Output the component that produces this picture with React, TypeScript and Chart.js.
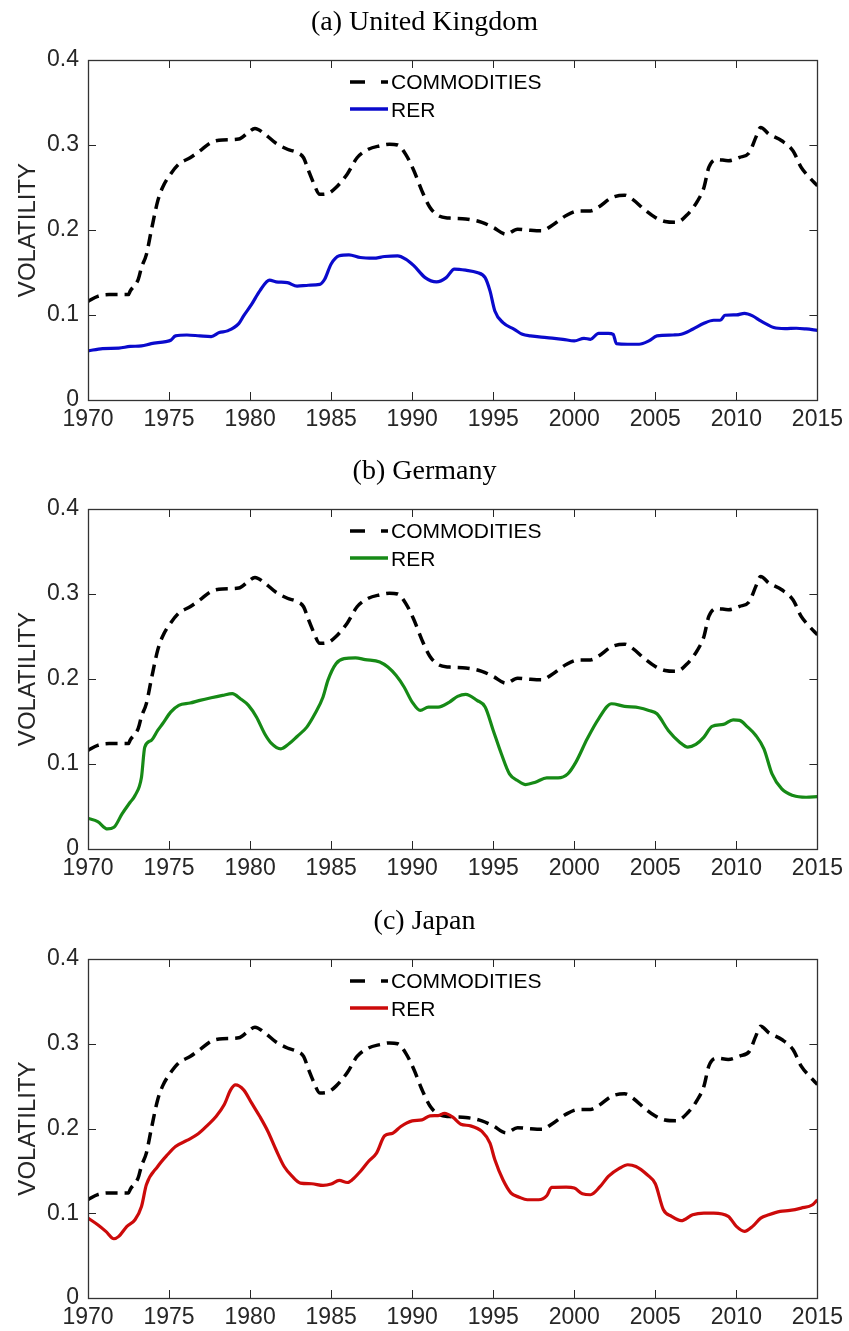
import React, { useEffect, useRef } from 'react';
import { Chart, registerables } from 'chart.js';

Chart.register(...registerables);

// ---------- data ----------
const COMMODITY_YEARS = [
  1970, 1970.6, 1971.3, 1972.5, 1972.6, 1973.1, 1973.3, 1973.6, 1973.9, 1974.3, 1974.6,
  1975.1, 1975.6, 1976.3, 1976.9, 1977.6, 1978.3, 1979.3, 1979.9, 1980.3, 1980.9, 1981.6,
  1982.3, 1982.9, 1983.3, 1983.6, 1983.9, 1984.3, 1984.8, 1985.3, 1986.0, 1986.6, 1987.3,
  1988.0, 1988.6, 1989.1, 1989.6, 1990.1, 1990.6, 1991.1, 1991.6, 1992.3, 1993.3, 1994.3,
  1995.0, 1995.8, 1996.5, 1997.1, 1998.0, 1998.6, 1999.5, 2000.3, 2001.0, 2001.5, 2002.3,
  2003.1, 2003.6, 2004.3, 2005.0, 2005.6, 2006.3, 2007.0, 2007.6, 2008.0, 2008.3, 2008.8,
  2009.5, 2010.2, 2010.8, 2011.2, 2011.5, 2012.0, 2012.8, 2013.5, 2014.0, 2014.5, 2015.0,
];
const COMMODITY_VOL = [
  0.116, 0.122, 0.124, 0.124, 0.128, 0.142, 0.156, 0.171, 0.199, 0.234, 0.25,
  0.266, 0.2775, 0.285, 0.293, 0.303, 0.306, 0.307, 0.315, 0.3195, 0.313, 0.302,
  0.295, 0.291, 0.285, 0.27, 0.256, 0.242, 0.243, 0.25, 0.266, 0.285, 0.295,
  0.299, 0.301, 0.3, 0.289, 0.27, 0.246, 0.2265, 0.217, 0.214, 0.213, 0.209,
  0.203, 0.195, 0.201, 0.2, 0.199, 0.205, 0.217, 0.2225, 0.2225, 0.227, 0.238,
  0.241, 0.236, 0.2245, 0.2147, 0.21, 0.209, 0.2186, 0.234, 0.25, 0.2736, 0.283,
  0.2815, 0.2855, 0.291, 0.309, 0.3207, 0.313, 0.305, 0.293, 0.2736, 0.262, 0.252,
];

const UK_YEARS = [
  1970, 1970.9, 1971.9, 1972.6, 1973.3, 1973.9, 1974.8, 1975.1, 1975.4, 1976.1, 1976.9,
  1977.6, 1978.1, 1978.6, 1979.3, 1979.6, 1980.1, 1980.6, 1981.2, 1981.6, 1982.3, 1982.9,
  1983.6, 1984.3, 1984.6, 1985.0, 1985.5, 1986.1, 1986.8, 1987.6, 1988.3, 1989.1, 1989.6,
  1990.1, 1990.8, 1991.5, 1992.1, 1992.6, 1993.3, 1994.0, 1994.5, 1994.8, 1995.1, 1995.6,
  1996.3, 1996.8, 1997.3, 1998.3, 1999.3, 2000.0, 2000.6, 2001.0, 2001.5, 2002.1, 2002.4,
  2002.6, 2003.3, 2004.0, 2004.6, 2005.1, 2006.1, 2006.6, 2007.3, 2008.0, 2008.6, 2009.0,
  2009.3, 2010.0, 2010.5, 2011.0, 2011.5, 2011.8, 2012.3, 2013.0, 2013.7, 2014.3, 2015.0,
];
const UK_RER = [
  0.0577, 0.0605, 0.061, 0.063, 0.0636, 0.0663, 0.0687, 0.0703, 0.0754, 0.0765, 0.0754,
  0.0746, 0.0793, 0.0813, 0.0899, 0.099, 0.1127, 0.1284, 0.141, 0.139, 0.138, 0.134,
  0.135, 0.136, 0.142, 0.16, 0.1696, 0.1708, 0.1676, 0.1668, 0.1688, 0.1696, 0.1657,
  0.158, 0.144, 0.139, 0.144, 0.154, 0.1527, 0.15, 0.144, 0.1284, 0.1048, 0.091,
  0.0832, 0.0773, 0.0754, 0.0734, 0.0714, 0.0695, 0.0726, 0.0714, 0.0785, 0.0785, 0.0773,
  0.0663, 0.0656, 0.0656, 0.0695, 0.0754, 0.0765, 0.0773, 0.0832, 0.0903, 0.0938, 0.0938,
  0.0997, 0.1001, 0.102, 0.099, 0.093, 0.0899, 0.0852, 0.084, 0.0844, 0.0836, 0.082,
];

const DE_YEARS = [
  1970, 1970.6, 1971.2, 1971.6, 1972.1, 1972.6, 1972.9, 1973.3, 1973.5, 1973.9, 1974.3,
  1974.6, 1975.1, 1975.6, 1976.3, 1976.9, 1977.6, 1978.3, 1978.9, 1979.4, 1979.9, 1980.4,
  1980.9, 1981.3, 1981.9, 1982.4, 1982.9, 1983.5, 1984.0, 1984.5, 1984.8, 1985.3, 1985.8,
  1986.5, 1987.1, 1988.0, 1988.5, 1989.0, 1989.5, 1990.0, 1990.5, 1991.0, 1991.6, 1992.3,
  1992.8, 1993.3, 1994.0, 1994.5, 1995.0, 1995.5, 1996.0, 1996.5, 1997.0, 1997.6, 1998.3,
  1999.0, 1999.6, 2000.1, 2000.8, 2001.5, 2002.3, 2003.1, 2004.0, 2004.6, 2005.1, 2005.8,
  2006.5, 2007.0, 2007.5, 2008.0, 2008.5, 2009.2, 2009.8, 2010.2, 2010.7, 2011.2, 2011.7,
  2012.2, 2012.8, 2013.5, 2014.3, 2015.0,
];
const DE_RER = [
  0.0361, 0.0322, 0.0236, 0.0255, 0.0413, 0.055, 0.0629, 0.0845, 0.1198, 0.1277, 0.1395,
  0.1473, 0.161, 0.169, 0.1717, 0.1749, 0.178, 0.1807, 0.1827, 0.1768, 0.169, 0.155,
  0.1356, 0.1246, 0.1179, 0.1238, 0.1324, 0.1434, 0.159, 0.1788, 0.1984, 0.218, 0.224,
  0.2248, 0.2228, 0.22, 0.2141, 0.2043, 0.1906, 0.1729, 0.163, 0.167, 0.167, 0.1729,
  0.1796, 0.182, 0.1749, 0.167, 0.1395, 0.112, 0.0884, 0.0806, 0.0758, 0.0786, 0.0837,
  0.0837, 0.0884, 0.1022, 0.1297, 0.1532, 0.1709, 0.1678, 0.1662, 0.163, 0.1591, 0.1395,
  0.1257, 0.1198, 0.123, 0.1316, 0.1442, 0.1466, 0.152, 0.1513, 0.1434, 0.1336, 0.1179,
  0.0884, 0.0707, 0.0629, 0.0609, 0.0617,
];

const JP_YEARS = [
  1970, 1970.6, 1971.1, 1971.6, 1971.9, 1972.4, 1972.9, 1973.3, 1973.6, 1974.3, 1974.9,
  1975.4, 1976.1, 1976.8, 1977.4, 1977.9, 1978.4, 1978.8, 1979.1, 1979.6, 1980.1, 1980.6,
  1981.1, 1981.6, 1982.1, 1982.6, 1983.1, 1983.8, 1984.5, 1985.0, 1985.5, 1986.0, 1986.3,
  1986.8, 1987.3, 1987.8, 1988.3, 1988.8, 1989.3, 1990.0, 1990.6, 1991.1, 1991.6, 1992.0,
  1992.5, 1993.0, 1993.6, 1994.3, 1994.8, 1995.1, 1995.6, 1996.1, 1996.6, 1997.1, 1997.8,
  1998.3, 1998.6, 1999.5, 2000.0, 2000.5, 2001.0, 2001.6, 2002.1, 2002.8, 2003.3, 2003.8,
  2004.5, 2005.0, 2005.5, 2006.0, 2006.6, 2007.3, 2008.0, 2008.6, 2009.5, 2010.0, 2010.5,
  2011.0, 2011.5, 2012.0, 2012.7, 2013.3, 2014.0, 2014.7, 2015.0,
];
const JP_RER = [
  0.0943, 0.0864, 0.0786, 0.0699, 0.0727, 0.0845, 0.0923, 0.108, 0.1336, 0.1552, 0.169,
  0.1788, 0.1859, 0.1937, 0.2043, 0.2141, 0.2279, 0.2456, 0.2515, 0.2456, 0.2299, 0.2141,
  0.1965, 0.1749, 0.1552, 0.1434, 0.1356, 0.1348, 0.1328, 0.1344, 0.1387, 0.1363, 0.1395,
  0.1493, 0.1611, 0.1709, 0.1914, 0.1945, 0.2024, 0.209, 0.2102, 0.215, 0.2153, 0.218,
  0.2134, 0.2051, 0.2031, 0.1965, 0.1827, 0.163, 0.1395, 0.1238, 0.119, 0.1159, 0.1159,
  0.1206, 0.1305, 0.1308, 0.1297, 0.123, 0.1218, 0.1316, 0.1434, 0.1532, 0.1572, 0.1552,
  0.1454, 0.1348, 0.1041, 0.0963, 0.0912, 0.0982, 0.1002, 0.1002, 0.0963, 0.0845, 0.0786,
  0.0845, 0.0943, 0.0982, 0.1022, 0.1033, 0.1061, 0.11, 0.1159,
];

const X_MIN = 1970;
const X_MAX = 2015;
const X_STEP = 5;
const Y_MIN = 0;
const Y_MAX = 0.4;
const Y_STEP = 0.1;
const SERIES_LABELS = ['COMMODITIES', 'RER'];
const Y_TITLE = 'VOLATILITY';
const PANEL_TITLES = ['(a) United Kingdom', '(b) Germany', '(c) Japan'];

// ---------- styles ----------
const W = 849;
const SANS = '"Liberation Sans", Arial, Helvetica, sans-serif';
const SERIF = '"Liberation Serif", "Times New Roman", serif';
const AXIS_COLOR = '#262626';

const toPoints = (xs: number[], ys: number[]) => xs.map((x, i) => ({ x, y: ys[i] }));

const decorPlugin = {
  id: 'decor',
  afterDraw(chart: any, _args: any, opts: any) {
    const { ctx, chartArea } = chart;
    const { left, right, top, bottom } = chartArea;
    const xs = chart.scales.x;
    const ys = chart.scales.y;
    ctx.save();

    // tick marks (inside, mirrored)
    ctx.strokeStyle = AXIS_COLOR;
    ctx.lineWidth = 1;
    const TL = 8;
    ctx.beginPath();
    xs.ticks.forEach((t: any) => {
      const px = Math.round(xs.getPixelForValue(t.value)) + 0.5;
      ctx.moveTo(px, bottom);
      ctx.lineTo(px, bottom - TL);
      ctx.moveTo(px, top);
      ctx.lineTo(px, top + TL);
    });
    ys.ticks.forEach((t: any) => {
      const py = Math.round(ys.getPixelForValue(t.value)) + 0.5;
      ctx.moveTo(left, py);
      ctx.lineTo(left + TL, py);
      ctx.moveTo(right, py);
      ctx.lineTo(right - TL, py);
    });
    ctx.stroke();

    // box
    ctx.lineWidth = 1.3;
    ctx.strokeStyle = '#333333';
    ctx.strokeRect(Math.round(left) + 0.5, Math.round(top) + 0.5, Math.round(right - left), Math.round(bottom - top));

    // panel title
    ctx.fillStyle = '#000';
    ctx.font = `28px ${SERIF}`;
    ctx.textAlign = 'center';
    ctx.textBaseline = 'middle';
    ctx.fillText(opts.title, chart.width / 2, top - 37);

    // y-axis title
    ctx.save();
    ctx.translate(35, (top + bottom) / 2);
    ctx.rotate(-Math.PI / 2);
    ctx.font = `24px ${SANS}`;
    ctx.fillStyle = AXIS_COLOR;
    ctx.textAlign = 'center';
    ctx.textBaseline = 'alphabetic';
    ctx.fillText(Y_TITLE, 0, 0);
    ctx.restore();

    // legend
    const lx0 = left + 262;
    const lx1 = left + 300;
    const tx = left + 303;
    ctx.font = `21px ${SANS}`;
    ctx.fillStyle = '#000';
    ctx.textAlign = 'left';
    ctx.textBaseline = 'alphabetic';
    ctx.lineWidth = 3.5;
    ctx.strokeStyle = '#000';
    ctx.setLineDash([15, 16]);
    ctx.beginPath();
    ctx.moveTo(lx0, top + 22);
    ctx.lineTo(lx1, top + 22);
    ctx.stroke();
    ctx.setLineDash([]);
    ctx.fillText(SERIES_LABELS[0], tx, top + 29);
    ctx.strokeStyle = opts.color;
    ctx.lineWidth = 3.5;
    ctx.beginPath();
    ctx.moveTo(lx0, top + 49);
    ctx.lineTo(lx1, top + 49);
    ctx.stroke();
    ctx.fillText(SERIES_LABELS[1], tx, top + 57);

    ctx.restore();
  },
};

type PanelProps = {
  title: string;
  years: number[];
  values: number[];
  color: string;
  height: number;
  plotBottom: number;
  top: number;
};

function Panel({ title, years, values, color, height, plotBottom, top }: PanelProps) {
  const ref = useRef<HTMLCanvasElement | null>(null);
  useEffect(() => {
    if (!ref.current) return;
    const tickFont = { family: SANS, size: 23 };
    const chart = new Chart(ref.current, {
      type: 'line',
      data: {
        datasets: [
          {
            label: SERIES_LABELS[1],
            data: toPoints(years, values),
            borderColor: color,
            borderWidth: 3.2,
            pointRadius: 0,
            cubicInterpolationMode: 'monotone',
            order: 0,
          },
          {
            label: SERIES_LABELS[0],
            data: toPoints(COMMODITY_YEARS, COMMODITY_VOL),
            borderColor: '#000',
            borderWidth: 3.5,
            borderDash: [12, 7],
            pointRadius: 0,
            cubicInterpolationMode: 'monotone',
            order: 1,
          },
        ],
      },
      options: {
        responsive: false,
        animation: false,
        events: [],
        layout: { padding: { left: 0, right: 31, top: 60, bottom: 0 } },
        plugins: {
          legend: { display: false },
          tooltip: { enabled: false },
          title: { display: false },
          decor: { title, color },
        } as any,
        scales: {
          x: {
            type: 'linear',
            min: X_MIN,
            max: X_MAX,
            ticks: {
              stepSize: X_STEP,
              padding: 6,
              font: tickFont,
              color: AXIS_COLOR,
              maxRotation: 0,
              autoSkip: false,
              callback: (v: any) => String(v),
            },
            grid: { display: false, drawTicks: false },
            border: { display: false },
            afterFit: (s: any) => {
              s.height = height - plotBottom;
            },
          },
          y: {
            type: 'linear',
            min: Y_MIN,
            max: Y_MAX,
            ticks: {
              stepSize: Y_STEP,
              padding: 9,
              font: tickFont,
              color: AXIS_COLOR,
              callback: (v: any) => (Math.abs(v) < 1e-9 ? '0' : Number(v).toFixed(1)),
            },
            grid: { display: false, drawTicks: false },
            border: { display: false },
            afterFit: (s: any) => {
              s.width = 88;
            },
          },
        },
      } as any,
      plugins: [decorPlugin],
    });
    return () => chart.destroy();
  }, [title, years, values, color, height, plotBottom]);

  return (
    <canvas
      ref={ref}
      width={W}
      height={height}
      style={{ position: 'absolute', left: 0, top, width: W, height, display: 'block' }}
    />
  );
}

export default function App() {
  return (
    <div
      style={{
        position: 'absolute',
        left: 0,
        top: 0,
        width: W,
        height: 1331,
        overflow: 'hidden',
        background: '#fff',
      }}
    >
      <Panel title={PANEL_TITLES[0]} years={UK_YEARS} values={UK_RER} color="#0a0acc" height={449} plotBottom={400} top={0} />
      <Panel title={PANEL_TITLES[1]} years={DE_YEARS} values={DE_RER} color="#168a16" height={450} plotBottom={400} top={449} />
      <Panel title={PANEL_TITLES[2]} years={JP_YEARS} values={JP_RER} color="#cc0a0a" height={432} plotBottom={399} top={899} />
    </div>
  );
}
